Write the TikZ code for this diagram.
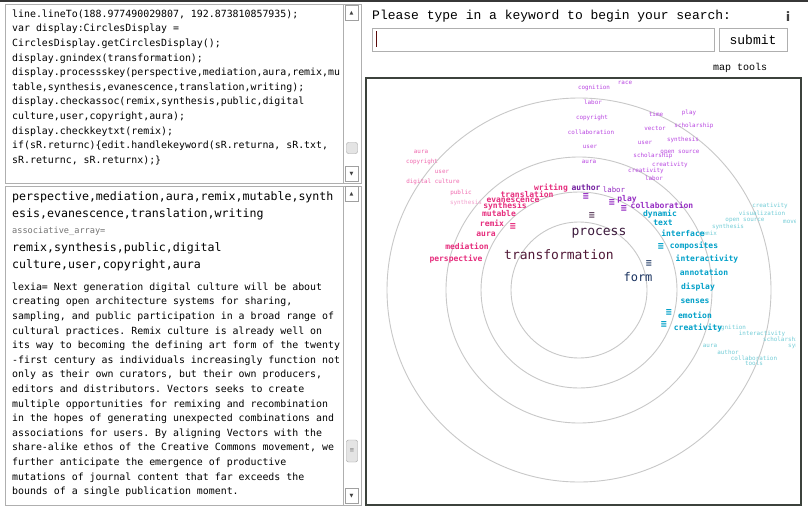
\documentclass[tikz,border=0pt]{standalone}
\usepackage{fontspec}
\setmonofont{DejaVu Sans Mono}
\newfontfamily\promptfont{Liberation Mono}
\newfontfamily\symfont{DejaVu Sans}
\usepackage{tikz}
\usetikzlibrary{positioning}
\definecolor{topbar}{RGB}{55,55,55}
\definecolor{panelgrey}{RGB}{175,175,175}
\definecolor{btngrey}{RGB}{160,160,160}
\definecolor{thumbgrey}{RGB}{228,228,228}
\definecolor{framegrey}{RGB}{60,66,60}
\definecolor{ringgrey}{RGB}{200,200,200}
\definecolor{caretred}{RGB}{90,10,10}
\definecolor{hotpink}{RGB}{230,45,125}
\definecolor{softpink}{RGB}{240,105,175}
\definecolor{palepink}{RGB}{242,160,205}
\definecolor{farviolet}{RGB}{185,70,225}
\definecolor{nearviolet}{RGB}{150,45,195}
\definecolor{deepviolet}{RGB}{115,30,160}
\definecolor{nearteal}{RGB}{0,160,200}
\definecolor{farteal}{RGB}{115,205,215}
\definecolor{processcol}{RGB}{60,25,60}
\definecolor{transcol}{RGB}{80,25,55}
\definecolor{formcol}{RGB}{25,50,95}
\tikzstyle{panel} = [draw=panelgrey, line width=0.8pt]
\tikzstyle{code} = [anchor=north west, align=left, inner sep=0pt, font=\ttfamily\fontsize{9.9}{14.6}\selectfont]
\tikzstyle{keys} = [anchor=north west, align=left, inner sep=0pt, font=\ttfamily\fontsize{11.6}{17}\selectfont]
\tikzstyle{btn} = [draw=btngrey, fill=white, minimum width=13pt, minimum height=15pt, inner sep=0pt, text=black!75, font=\symfont\fontsize{5}{5}\selectfont]
\tikzstyle{thumb} = [draw=btngrey, fill=thumbgrey, rounded corners=2pt, minimum width=11pt, inner sep=0pt, text=black!50, font=\ttfamily\fontsize{7}{7}\selectfont]
\tikzstyle{field} = [draw=panelgrey, line width=0.8pt]
\tikzstyle{ring} = [draw=ringgrey, line width=0.9pt]
\tikzstyle{far} = [inner sep=0pt, font=\ttfamily\fontsize{5.9}{6}\selectfont]
\tikzstyle{near} = [inner sep=0pt, font=\ttfamily\bfseries\fontsize{8}{9}\selectfont]
\tikzstyle{hub} = [inner sep=0pt, font=\ttfamily\fontsize{13}{14}\selectfont]
\tikzstyle{menu} = [inner sep=0pt, font=\ttfamily\bfseries\fontsize{10}{10}\selectfont]

\begin{document}
\begin{tikzpicture}[x=1pt, y=-1pt]
    \fill [white] (0,0) rectangle (808,514);
    \useasboundingbox (0,0) rectangle (808,514);
    \draw [topbar, line width=2.5pt] (0,1) -- (808,1);

    % Script box
    \draw [panel] (5,4) rectangle (361,183);
    \draw [panel] (343,4) -- (343,183);
    \node [code] (script) at (12,9.5) {line.lineTo(188.977490029807, 192.873810857935);\\
var display:CirclesDisplay =\\
CirclesDisplay.getCirclesDisplay();\\
display.gnindex(transformation);\\
display.processskey(perspective,mediation,aura,remix,mu\\
table,synthesis,evanescence,translation,writing);\\
display.checkassoc(remix,synthesis,public,digital\\
culture,user,copyright,aura);\\
display.checkkeytxt(remix);\\
if(sR.returnc)\{edit.handlekeyword(sR.returna, sR.txt,\\
sR.returnc, sR.returnx);\}};
    \node [btn] (script-up) at (351.5,13) {▲};
    \node [btn] (script-down) at (351.5,174) {▼};
    \node [thumb, minimum height=11pt] (script-thumb) at (352,148) {};

    % Lexia box
    \draw [panel] (5,186) rectangle (361,505);
    \draw [panel] (343,186) -- (343,505);
    \node [keys] (keywords) at (12,191.5) {perspective,mediation,aura,remix,mutable,synth\\
esis,evanescence,translation,writing};
    \node [anchor=base west, inner sep=0pt, text=black!55, font=\ttfamily\fontsize{8.6}{9}\selectfont] (assoc) at (12,233) {associative\_array=};
    \node [keys] (assoclist) at (12,242.5) {remix,synthesis,public,digital\\
culture,user,copyright,aura};
    \node [code] (lexia) at (12,282.5) {lexia= Next generation digital culture will be about\\
creating open architecture systems for sharing,\\
sampling, and public participation in a broad range of\\
cultural practices. Remix culture is already well on\\
its way to becoming the defining art form of the twenty\\
-first century as individuals increasingly function not\\
only as their own curators, but their own producers,\\
editors and distributors. Vectors seeks to create\\
multiple opportunities for remixing and recombination\\
in the hopes of generating unexpected combinations and\\
associations for users. By aligning Vectors with the\\
share-alike ethos of the Creative Commons movement, we\\
further anticipate the emergence of productive\\
mutations of journal content that far exceeds the\\
bounds of a single publication moment.};
    \node [btn] (lexia-up) at (351.5,194) {▲};
    \node [btn] (lexia-down) at (351.5,496) {▼};
    \node [thumb, minimum height=22pt] (lexia-thumb) at (352,451) {≡};

    % Search bar
    \node [anchor=west, inner sep=0pt, font=\promptfont\fontsize{13}{14}\selectfont] (prompt) at (372,16) {Please type in a keyword to begin your search:};
    \node [inner sep=0pt, text=black!75, font=\symfont\bfseries\fontsize{13}{14}\selectfont] (info) at (788,17) {i};
    \draw [field] (372,28) rectangle (714,51);
    \coordinate (caret) at (376,31);
    \draw [caretred, line width=1pt] (caret) -- ++(0,16);
    \node [field, minimum width=68pt, minimum height=23pt, font=\promptfont\fontsize{13}{14}\selectfont] (submit) at (753,39.5) {submit};
    \node [inner sep=0pt, font=\promptfont\fontsize{10}{11}\selectfont] (maptools) at (740,68) {map tools};

    % Map
    \draw [framegrey, line width=1.5pt] (366,78) rectangle (801,505);
    \coordinate (centre) at (579,290);
    \draw [ring] (centre) circle [radius=68pt];
    \draw [ring] (centre) circle [radius=98pt];
    \draw [ring] (centre) circle [radius=133pt];
    \draw [ring] (centre) circle [radius=192pt];

    \begin{scope}
    \clip (367,79) rectangle (795,504);
    % Outer keywords, top
    \node [far, text=farviolet] (far-race) at (625,83) {race};
    \node [far, text=farviolet] (far-cognition) at (594,88) {cognition};
    \node [far, text=farviolet] (far-labor) at (593,102) {labor};
    \node [far, text=farviolet] (far-copyright) at (592,118) {copyright};
    \node [far, text=farviolet] (far-collaboration) at (591,132) {collaboration};
    \node [far, text=farviolet] (far-user) at (590,147) {user};
    \node [far, text=farviolet] (far-aura) at (589,162) {aura};
    \node [far, text=farviolet] (far-time) at (656,114) {time};
    \node [far, text=farviolet] (far-play) at (689,113) {play};
    \node [far, text=farviolet] (far-vector) at (655,128) {vector};
    \node [far, text=farviolet] (far-scholarship) at (694,126) {scholarship};
    \node [far, text=farviolet] (far-synthesis) at (683,140) {synthesis};
    \node [far, text=farviolet] (far-user2) at (645,143) {user};
    \node [far, text=farviolet] (far-opensource) at (680,152) {open source};
    \node [far, text=farviolet] (far-scholarship2) at (653,156) {scholarship};
    \node [far, text=farviolet] (far-creativity) at (670,165) {creativity};
    \node [far, text=farviolet] (far-creativity2) at (646,171) {creativity};
    \node [far, text=farviolet] (far-labor2) at (654,178) {labor};

    % Outer keywords, left
    \node [far, text=softpink] (far-aura-l) at (421,152) {aura};
    \node [far, text=softpink] (far-copyright-l) at (422,162) {copyright};
    \node [far, text=softpink] (far-user-l) at (442,172) {user};
    \node [far, text=softpink] (far-digital-l) at (433,182) {digital culture};
    \node [far, text=softpink] (far-public-l) at (461,193) {public};
    \node [far, text=palepink] (far-synthesis-l) at (466,203) {synthesis};

    % Outer keywords, right
    \node [far, text=farteal] (far-creativity-r) at (770,206) {creativity};
    \node [far, text=farteal] (far-visualization-r) at (762,213) {visualization};
    \node [far, text=farteal] (far-opensource-r) at (745,220) {open source};
    \node [far, text=farteal, anchor=west] (far-movement-r) at (783,221) {movement};
    \node [far, text=farteal] (far-synthesis-r) at (728,227) {synthesis};
    \node [far, text=farteal] (far-remix-r) at (708,233) {remix};
    \node [far, text=farteal] (far-cognition-r) at (730,328) {cognition};
    \node [far, text=farteal] (far-interactivity-r) at (762,334) {interactivity};
    \node [far, text=farteal, anchor=west] (far-scholarship-r) at (763,340) {scholarship};
    \node [far, text=farteal, anchor=west] (far-synthesis-r2) at (788,346) {synthesis};
    \node [far, text=farteal] (far-aura-r) at (710,346) {aura};
    \node [far, text=farteal] (far-author-r) at (728,352) {author};
    \node [far, text=farteal] (far-collaboration-r) at (754,358) {collaboration};
    \node [far, text=farteal] (far-tools-r) at (754,363) {tools};
    \end{scope}

    % Inner ring keywords
    \node [near, text=hotpink] (writing) at (551,188) {writing};
    \node [near, text=hotpink] (translation) at (527,194) {translation};
    \node [near, text=hotpink] (evanescence) at (513,200) {evanescence};
    \node [near, text=hotpink] (synthesis) at (505,206) {synthesis};
    \node [near, text=hotpink] (mutable) at (499,214) {mutable};
    \node [near, text=hotpink] (remix) at (492,223) {remix};
    \node [near, text=hotpink] (aura) at (486,234) {aura};
    \node [near, text=hotpink] (mediation) at (467,246) {mediation};
    \node [near, text=hotpink] (perspective) at (456,259) {perspective};

    \node [near, text=deepviolet] (author) at (586,188) {author};
    \node [near, text=nearviolet, font=\ttfamily\fontsize{7.4}{8}\selectfont] (labor) at (614,190) {labor};
    \node [near, text=nearviolet] (play) at (627,199) {play};
    \node [near, text=nearviolet] (collaboration) at (662,205) {collaboration};

    \node [near, text=nearteal] (dynamic) at (660,214) {dynamic};
    \node [near, text=nearteal] (text) at (663,223) {text};
    \node [near, text=nearteal] (interface) at (683,233) {interface};
    \node [near, text=nearteal] (composites) at (694,246) {composites};
    \node [near, text=nearteal] (interactivity) at (707,259) {interactivity};
    \node [near, text=nearteal] (annotation) at (704,272) {annotation};
    \node [near, text=nearteal] (display) at (698,287) {display};
    \node [near, text=nearteal] (senses) at (695,301) {senses};
    \node [near, text=nearteal] (emotion) at (695,315) {emotion};
    \node [near, text=nearteal] (creativity) at (698,328) {creativity};

    % Centre keywords
    \node [hub, text=processcol] (process) at (599,233) {process};
    \node [hub, text=transcol] (transformation) at (559,255) {transformation};
    \node [hub, text=formcol, font=\ttfamily\fontsize{12}{13}\selectfont] (form) at (638,277) {form};

    % Menu marks
    \node [menu, text=nearviolet] (menu-author) at (586,197) {≡};
    \node [menu, text=nearviolet] (menu-labor) at (612,203) {≡};
    \node [menu, text=nearviolet] (menu-play) at (624,209) {≡};
    \node [menu, text=processcol!80] (menu-process) at (592,216) {≡};
    \node [menu, text=hotpink] (menu-remix) at (513,227) {≡};
    \node [menu, text=nearteal] (menu-composites) at (661,247) {≡};
    \node [menu, text=formcol!85] (menu-form) at (649,264) {≡};
    \node [menu, text=nearteal] (menu-emotion) at (669,313) {≡};
    \node [menu, text=nearteal] (menu-creativity) at (664,325) {≡};
\end{tikzpicture}
\end{document}
